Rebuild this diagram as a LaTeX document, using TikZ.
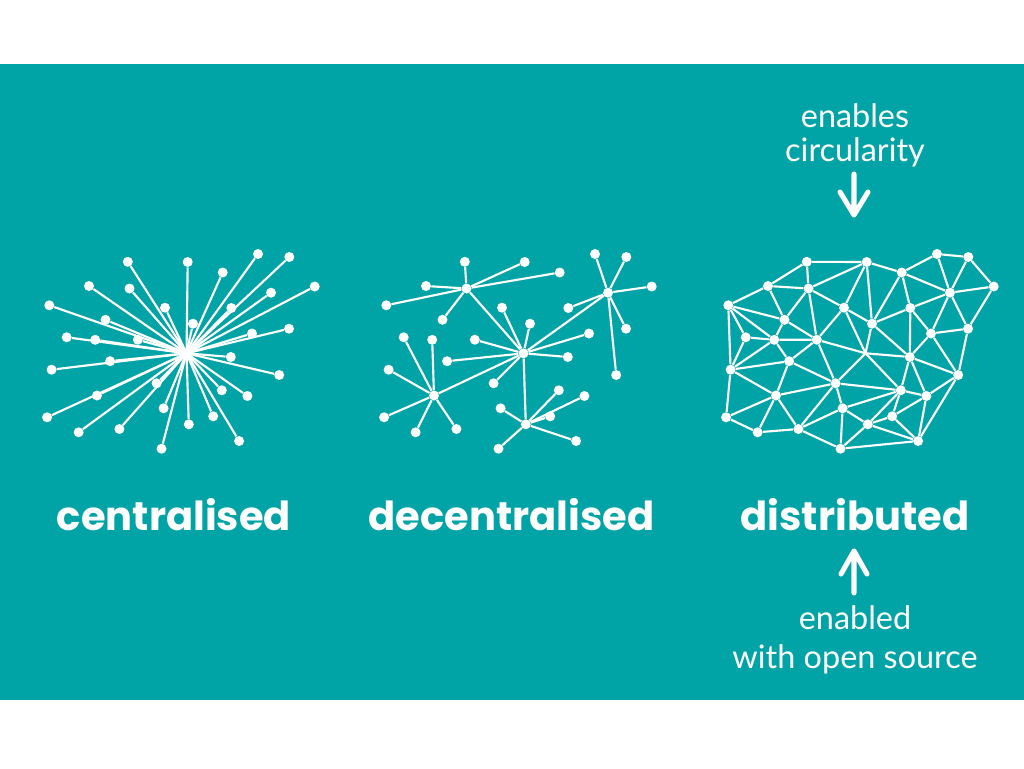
\documentclass[tikz,border=0pt]{standalone}
\usepackage{fontspec}
\setmainfont{Lato}
\newfontfamily\labfont{Poppins}
\definecolor{tealbg}{HTML}{00A3A6}
\begin{document}
\begin{tikzpicture}[x=0.75pt,y=-0.75pt,
  dot/.style={circle,fill=white,inner sep=0pt,minimum size=7.5pt},
  link/.style={draw=white,line width=1.6pt},
  bigarrow/.style={draw=white,line width=3.8pt,line cap=round,line join=round},
  lab/.style={text=white,font=\labfont\bfseries\fontsize{30}{34}\selectfont,anchor=base,inner sep=0pt},
  note/.style={text=white,font=\fontsize{24.3}{28}\selectfont,anchor=base,inner sep=0pt}]
\useasboundingbox (0,0) rectangle (1024,768);
\fill[white] (0,0) rectangle (1024,768);
\fill[tealbg] (0,64) rectangle (1024,700);
% dots for the three networks
\foreach \n/\x/\y in {1/127.8/261.8,2/187.7/262,3/258/254,4/289.3/257,5/222.7/272.5,
  6/314.7/286.5,7/89/286,8/129.5/288.5,9/271/292.7,10/165/307.7,11/231.3/308,
  12/49.3/305.3,13/193/323.7,14/105.5/319.8,15/252/333.5,16/289/328.7,17/66.7/337.3,
  18/95.2/339.8,19/137.8/339.7,20/230.8/357,21/110.1/361.2,22/51.6/369.7,23/279.2/375,
  24/156.6/383.3,25/221.8/390.3,26/247.4/396,27/97/395.5,28/47.1/417.3,29/163.6/408.3,
  30/213.2/416.3,31/188.8/424.3,32/78.6/432.3,33/119.4/429,34/161.5/448.7,35/239.1/441}{
  \node[dot] (c\n) at (\x,\y) {};
  \node[dot] (d\n) at (\x+337,\y) {};
  \node[dot] (e\n) at (\x+679,\y) {};
}
\coordinate (chub) at (186.5,353.3);
\node[dot] (dhub) at (523.5,353.3) {};
\coordinate (ehub) at (865.5,353.3);
% centralised
\foreach \n in {1,...,35} \draw[link] (chub) -- (c\n);
% decentralised
\foreach \h/\l in {8/1,8/2,8/5,8/7,8/12,8/14,9/3,9/4,9/6,9/11,9/16,9/23,
  27/17,27/18,27/22,27/28,27/32,27/33,31/29,31/25,31/26,31/30,31/35,31/34}
  \draw[link] (d\h) -- (d\l);
\foreach \l in {10,13,19,15,21,20,24,8,9,27,31} \draw[link] (dhub) -- (d\l);
% distributed
\foreach \a/\b in {1/2,1/7,1/8,2/8,2/10,2/13,2/5,5/3,3/4,4/6,3/9,4/9,6/9,6/16,
  5/11,5/13,5/9,11/9,11/13,11/15,11/20,9/15,9/16,15/16,15/20,15/23,16/23,
  7/8,7/12,7/14,8/14,8/10,8/19,12/14,12/18,12/17,12/22,14/18,14/19,10/19,10/13,
  13/20,18/19,17/18,17/22,18/22,18/21,19/21,19/24,21/22,21/24,21/27,22/27,22/28,
  27/28,27/32,27/33,27/24,28/32,32/33,33/24,33/29,33/34,24/29,24/25,20/25,20/26,
  20/23,25/29,25/31,25/30,25/26,26/23,26/30,26/35,23/35,30/31,30/35,31/29,31/34,
  31/35,29/34,34/35}
  \draw[link] (e\a) -- (e\b);
\foreach \l in {10,13,19,24,20,25} \draw[link] (ehub) -- (e\l);
% labels
\node[lab] (tcen) at (174,530) {centralised};
\node[lab] (tdec) at (511.5,530) {decentralised};
\node[lab] (tdis) at (855,530) {distributed};
\node[note] (tena) at (855,127.5) {enables};
\node[note] (tcir) at (855,161.5) {circularity};
\node[note] (tenb) at (855,629) {enabled};
\node[note] (twos) at (855,668) {with open source};
% arrows
\coordinate (dtop) at (854,174);
\coordinate (dtip) at (854,215);
\coordinate (dl) at (840,192);
\coordinate (dr) at (868,192);
\draw[bigarrow] (dtop) -- (dtip) (dl) -- (dtip) -- (dr);
\coordinate (ubot) at (854,593);
\coordinate (utip) at (854,551);
\coordinate (ul) at (841,574);
\coordinate (ur) at (867,574);
\draw[bigarrow] (ubot) -- (utip) (ul) -- (utip) -- (ur);
\end{tikzpicture}
\end{document}
